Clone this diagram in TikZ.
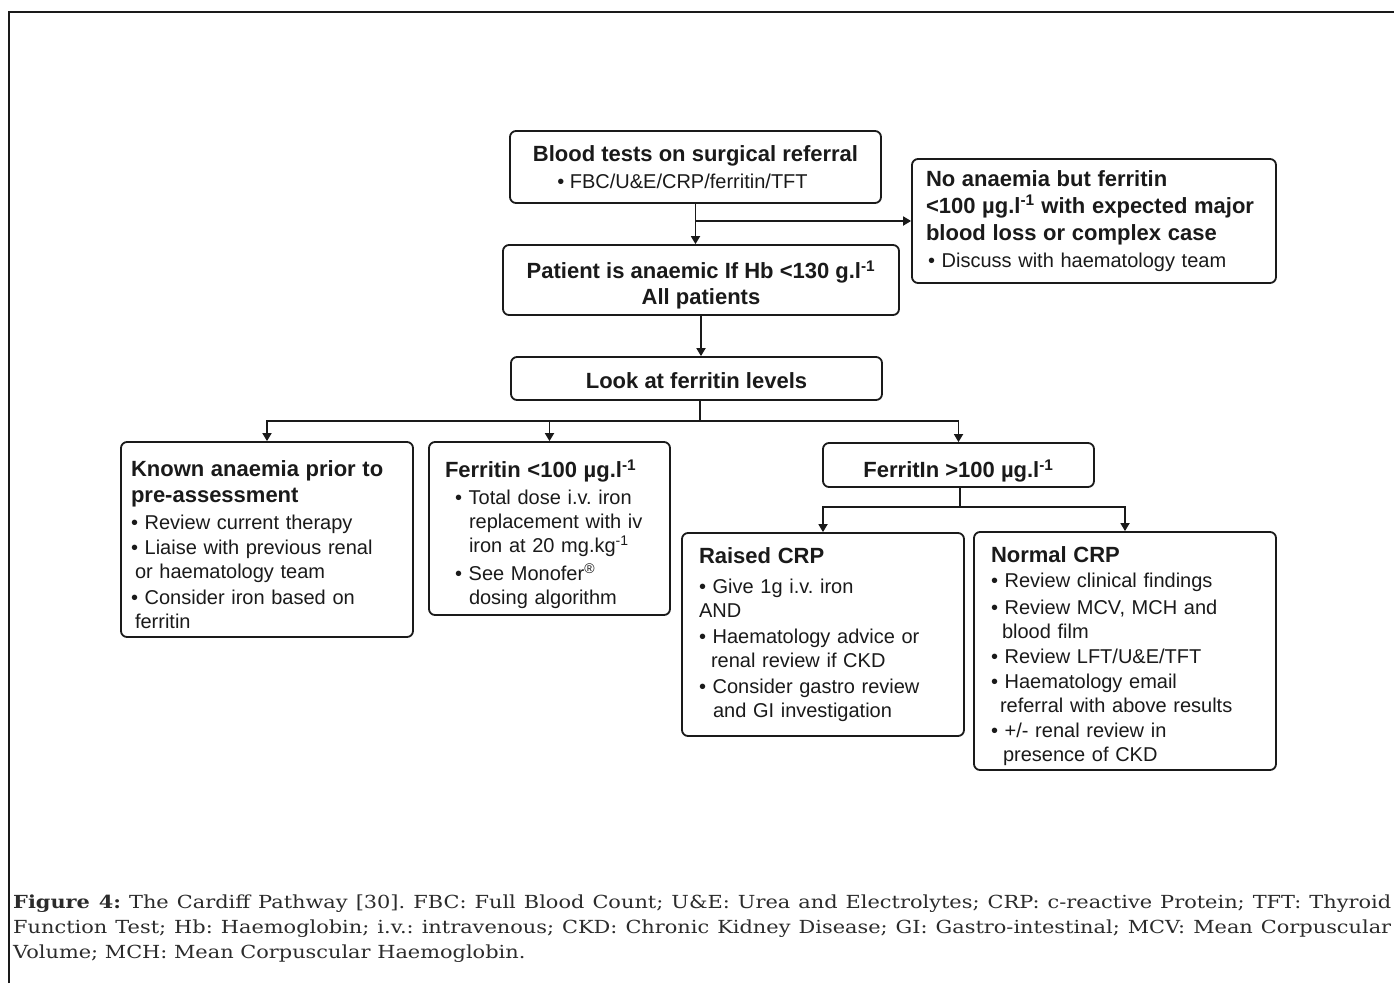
\documentclass[tikz,border=0pt]{standalone}
\usepackage{fontspec}
\setmainfont{Liberation Sans}
\newfontfamily\capfont[FakeStretch=1.16]{DejaVu Serif}
\definecolor{inkdark}{HTML}{1A1A1A}
\definecolor{captext}{HTML}{2B2B2B}
\usetikzlibrary{arrows.meta, positioning, calc}
\tikzset{
  box/.style={
    draw=inkdark, line width=1.8pt, rounded corners=6pt, fill=white,
    text=inkdark, inner sep=0pt, font=\fontsize{20}{24}\selectfont
  },
  cbox/.style={box, align=center},
  lbox/.style={box, align=left, text width=#1},
  arr/.style={-{Triangle[length=8pt,width=9pt]}, line width=1.7pt, draw=inkdark},
  lnk/.style={line width=1.7pt, draw=inkdark},
}
\newcommand{\ttl}{\fontsize{22}{26}\selectfont\bfseries}
\newcommand{\bul}{\textbullet\ }
\newcommand{\topsp}[1]{\rule{0pt}{#1}}
\frenchspacing

\begin{document}
\begin{tikzpicture}[x=1pt, y=-1pt]
  \useasboundingbox (0,0) rectangle (1394,983);
  % Frame
  \draw[line width=2pt, draw=inkdark] (9,983) -- (9,12) -- (1394,12);

  % Top column
  \node[cbox, minimum width=371, minimum height=72] (blood) at (695.5,167)
    {{\ttl Blood tests on surgical referral}\\[3pt]
     \bul FBC/U\&E/CRP/ferritin/TFT\hspace*{26pt}};
  \node[lbox=336, minimum width=364, minimum height=124] (noanaemia) at (1094,221)
    {{\ttl No anaemia but ferritin}\\[3pt]
     {\ttl <100 µg.l\textsuperscript{-1} with expected major}\\[3pt]
     {\ttl blood loss or complex case}\\[3pt]
     \hspace*{2pt}\bul Discuss with haematology team};
  \node[cbox, minimum width=396, minimum height=70] (anaemic) at (701,280)
    {{\ttl\topsp{28pt}Patient is anaemic If Hb <130 g.l\textsuperscript{-1}}\\[2pt]
     {\ttl All patients}};
  \node[cbox, minimum width=371, minimum height=43] (levels) at (696.5,378.5)
    {{\ttl\topsp{20pt}Look at ferritin levels}};

  % Ferritin branches
  \node[lbox=272, minimum width=292, minimum height=195] (known) at (267,539.5)
    {{\ttl\topsp{26pt}Known anaemia prior to}\\[2pt]
     {\ttl pre-assessment}\\[3pt]
     \bul Review current therapy\\[1pt]
     \bul Liaise with previous renal\\
     \hspace*{4pt}or haematology team\\[2pt]
     \bul Consider iron based on\\
     \hspace*{4pt}ferritin};
  \node[lbox=209, minimum width=241, minimum height=173] (lowferr) at (549.5,528.5)
    {{\ttl\topsp{30pt}Ferritin <100 µg.l\textsuperscript{-1}}\\[3pt]
     \hspace*{10pt}\bul Total dose i.v. iron\\
     \hspace*{24pt}replacement with iv\\
     \hspace*{24pt}iron at 20 mg.kg\textsuperscript{-1}\\[4pt]
     \hspace*{10pt}\bul See Monofer\textsuperscript{®}\\
     \hspace*{24pt}dosing algorithm};
  \node[cbox, minimum width=271, minimum height=44] (highferr) at (958.5,465)
    {{\ttl\topsp{30pt}FerritIn >100 µg.l\textsuperscript{-1}}};

  % CRP branches
  \node[lbox=248, minimum width=282, minimum height=203] (raised) at (823,634.5)
    {{\ttl Raised CRP}\\[6pt]
     \bul Give 1g i.v. iron\\
     AND\\[2pt]
     \bul Haematology advice or\\
     \hspace*{12pt}renal review if CKD\\[2pt]
     \bul Consider gastro review\\
     \hspace*{14pt}and GI investigation};
  \node[lbox=268, minimum width=302, minimum height=238] (normal) at (1125,651)
    {{\ttl\topsp{27pt}Normal CRP}\\[1pt]
     \bul Review clinical findings\\[3pt]
     \bul Review MCV, MCH and\\
     \hspace*{11pt}blood film\\[1pt]
     \bul Review LFT/U\&E/TFT\\[1pt]
     \bul Haematology email\\
     \hspace*{9pt}referral with above results\\[1pt]
     \bul +/- renal review in\\
     \hspace*{12pt}presence of CKD};

  % Connectors
  \draw[arr] (blood.south) -- (blood.south |- anaemic.north);
  \draw[arr] (blood.south |- noanaemia.west) -- (noanaemia.west);
  \draw[arr] (anaemic.south) -- (anaemic.south |- levels.north);
  \coordinate (split) at (700,421);
  \draw[lnk] (split |- levels.south) -- (split);
  \draw[arr] (split) -| (known.north);
  \draw[arr] (split) -| (lowferr.north);
  \draw[arr] (split) -| (highferr.north);
  \coordinate (crpsplit) at (960,507);
  \draw[lnk] (crpsplit |- highferr.south) -- (crpsplit);
  \draw[arr] (crpsplit) -| (raised.north);
  \draw[arr] (crpsplit) -| (normal.north);

  % Caption
  \node[anchor=north west, text width=1378, inner sep=0pt, align=justify,
        font=\capfont\fontsize{18}{25}\selectfont, text=captext] (cap) at (13,895)
    {\textbf{Figure 4:} The Cardiff Pathway [30]. FBC: Full Blood Count; U\&E: Urea and Electrolytes; CRP: c-reactive Protein; TFT: Thyroid\linebreak
     Function Test; Hb: Haemoglobin; i.v.: intravenous; CKD: Chronic Kidney Disease; GI: Gastro-intestinal; MCV: Mean Corpuscular\linebreak
     Volume; MCH: Mean Corpuscular Haemoglobin.};
\end{tikzpicture}
\end{document}
